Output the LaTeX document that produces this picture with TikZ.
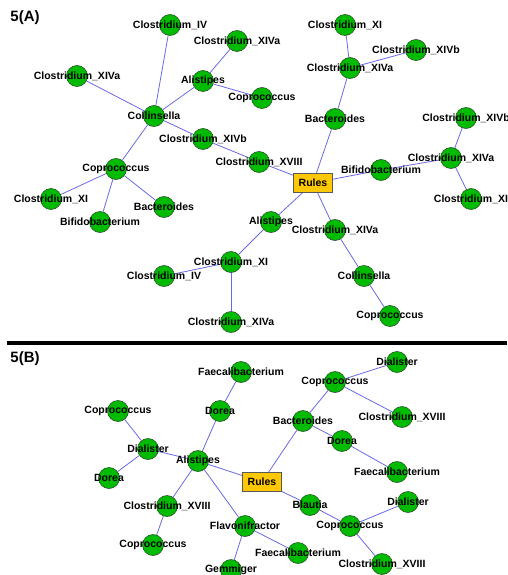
\documentclass[tikz,border=0pt]{standalone}
\usepackage{fontspec}
\setmainfont{Liberation Sans}
\usetikzlibrary{backgrounds}
\definecolor{taxongreen}{RGB}{0,187,0}
\definecolor{taxonline}{RGB}{45,80,45}
\definecolor{linkblue}{RGB}{105,105,230}
\definecolor{rulesgold}{RGB}{255,200,0}

\begin{document}
\begin{tikzpicture}[x=1pt,y=-1pt,font=\fontsize{10.5}{12}\selectfont\bfseries]
    \tikzstyle{taxon}=[circle,fill=taxongreen,draw=taxonline,line width=0.6pt,minimum size=21pt,inner sep=0pt]
    \tikzstyle{rules}=[rectangle,fill=rulesgold,draw=black!65,line width=0.8pt,minimum width=39pt,minimum height=19pt,inner sep=0pt]
    \tikzstyle{link}=[draw=linkblue,line width=0.8pt]
    \tikzstyle{panel title}=[font=\fontsize{15}{17}\selectfont\bfseries]

    \useasboundingbox (0,0) rectangle (507,575);

    % Panel A
    \node[panel title] (titleA) at (25,18) {5(A)};
    \node[rules] (A-rules) at (313,183) {Rules};

    \node[taxon,label=center:Collinsella] (A-col) at (154,116) {};
    \node[taxon,label=center:Clostridium\_IV] (A-c4) at (170,25) {};
    \node[taxon,label=center:Clostridium\_XIVa] (A-c14a) at (77,76) {};
    \node[taxon,label=center:Alistipes] (A-ali) at (203,81) {};
    \node[taxon,label=center:Clostridium\_XIVa] (A-c14a2) at (237,41) {};
    \node[taxon,label=center:Coprococcus] (A-cop) at (262,98) {};
    \node[taxon,label=center:Clostridium\_XIVb] (A-c14b) at (203,139) {};
    \node[taxon,label=center:Clostridium\_XVIII] (A-c18) at (259,162) {};
    \node[taxon,label=center:Coprococcus] (A-cop2) at (116,169) {};
    \node[taxon,label=center:Clostridium\_XI] (A-c11) at (51,199) {};
    \node[taxon,label=center:Bifidobacterium] (A-bif) at (100,222) {};
    \node[taxon,label=center:Bacteroides] (A-bac) at (164,207) {};

    \node[taxon,label=center:Bacteroides] (A-bac2) at (335,119) {};
    \node[taxon,label=center:Clostridium\_XIVa] (A-c14a3) at (350,68) {};
    \node[taxon,label=center:Clostridium\_XI] (A-c11b) at (345,25) {};
    \node[taxon,label=center:Clostridium\_XIVb] (A-c14b2) at (416,50) {};

    \node[taxon,label=center:Bifidobacterium] (A-bif2) at (381,170) {};
    \node[taxon,label=center:Clostridium\_XIVa] (A-c14a4) at (451,158) {};
    \node[taxon,label=center:Clostridium\_XIVb] (A-c14b3) at (466,118) {};
    \node[taxon,label=center:Clostridium\_XI] (A-c11c) at (471,199) {};

    \node[taxon,label=center:Alistipes] (A-ali2) at (271,222) {};
    \node[taxon,label=center:Clostridium\_XI] (A-c11d) at (231,262) {};
    \node[taxon,label=center:Clostridium\_IV] (A-c4b) at (164,276) {};
    \node[taxon,label=center:Clostridium\_XIVa] (A-c14a5) at (231,322) {};

    \node[taxon,label=center:Clostridium\_XIVa] (A-c14a6) at (335,230) {};
    \node[taxon,label=center:Collinsella] (A-col2) at (364,276) {};
    \node[taxon,label=center:Coprococcus] (A-cop3) at (390,316) {};

    % Separator between the panels
    \draw[line width=4pt] (7,343) -- (507,343);

    % Panel B
    \node[panel title] (titleB) at (25,359) {5(B)};
    \node[rules] (B-rules) at (262,482) {Rules};

    \node[taxon,label=center:Alistipes] (B-ali) at (198,461) {};
    \node[taxon,label=center:Dorea] (B-dor) at (220,411) {};
    \node[taxon,label=center:Faecalibacterium] (B-fae) at (241,372) {};
    \node[taxon,label=center:Dialister] (B-dia) at (148,449) {};
    \node[taxon,label=center:Coprococcus] (B-cop) at (118,411) {};
    \node[taxon,label=center:Dorea] (B-dor2) at (109,478) {};
    \node[taxon,label=center:Clostridium\_XVIII] (B-c18) at (167,506) {};
    \node[taxon,label=center:Coprococcus] (B-cop2) at (153,545) {};
    \node[taxon,label=center:Flavonifractor] (B-fla) at (245,526) {};
    \node[taxon,label=center:Gemmiger] (B-gem) at (231,570) {};
    \node[taxon,label=center:Faecalibacterium] (B-fae2) at (298,553) {};

    \node[taxon,label=center:Bacteroides] (B-bac) at (303,421) {};
    \node[taxon,label=center:Coprococcus] (B-cop3) at (335,382) {};
    \node[taxon,label=center:Dialister] (B-dia2) at (397,362) {};
    \node[taxon,label=center:Clostridium\_XVIII] (B-c18b) at (402,417) {};
    \node[taxon,label=center:Dorea] (B-dor3) at (342,441) {};
    \node[taxon,label=center:Faecalibacterium] (B-fae3) at (397,472) {};

    \node[taxon,label=center:Blautia] (B-bla) at (310,505) {};
    \node[taxon,label=center:Coprococcus] (B-cop4) at (350,526) {};
    \node[taxon,label=center:Dialister] (B-dia3) at (408,502) {};
    \node[taxon,label=center:Clostridium\_XVIII] (B-c18c) at (382,564) {};

    % Connect the nodes, behind the circles
    \begin{pgfonlayer}{background}
    \foreach \source/\dest in {A-col/A-c4, A-col/A-c14a, A-col/A-ali, A-col/A-c14b, A-col/A-cop2,
            A-ali/A-c14a2, A-ali/A-cop, A-c14b/A-c18, A-c18/A-rules,
            A-cop2/A-c11, A-cop2/A-bif, A-cop2/A-bac,
            A-rules/A-bac2, A-bac2/A-c14a3, A-c14a3/A-c11b, A-c14a3/A-c14b2,
            A-rules/A-bif2, A-bif2/A-c14a4, A-c14a4/A-c14b3, A-c14a4/A-c11c,
            A-rules/A-ali2, A-ali2/A-c11d, A-c11d/A-c4b, A-c11d/A-c14a5,
            A-rules/A-c14a6, A-c14a6/A-col2, A-col2/A-cop3}
        \draw[link] (\source) -- (\dest);

    \foreach \source/\dest in {B-rules/B-ali, B-ali/B-dor, B-dor/B-fae,
            B-ali/B-dia, B-dia/B-cop, B-dia/B-dor2,
            B-ali/B-c18, B-c18/B-cop2,
            B-ali/B-fla, B-fla/B-gem, B-fla/B-fae2,
            B-rules/B-bac, B-bac/B-cop3, B-cop3/B-dia2, B-cop3/B-c18b,
            B-bac/B-dor3, B-dor3/B-fae3,
            B-rules/B-bla, B-bla/B-cop4, B-cop4/B-dia3, B-cop4/B-c18c}
        \draw[link] (\source) -- (\dest);
    \end{pgfonlayer}
\end{tikzpicture}
\end{document}
